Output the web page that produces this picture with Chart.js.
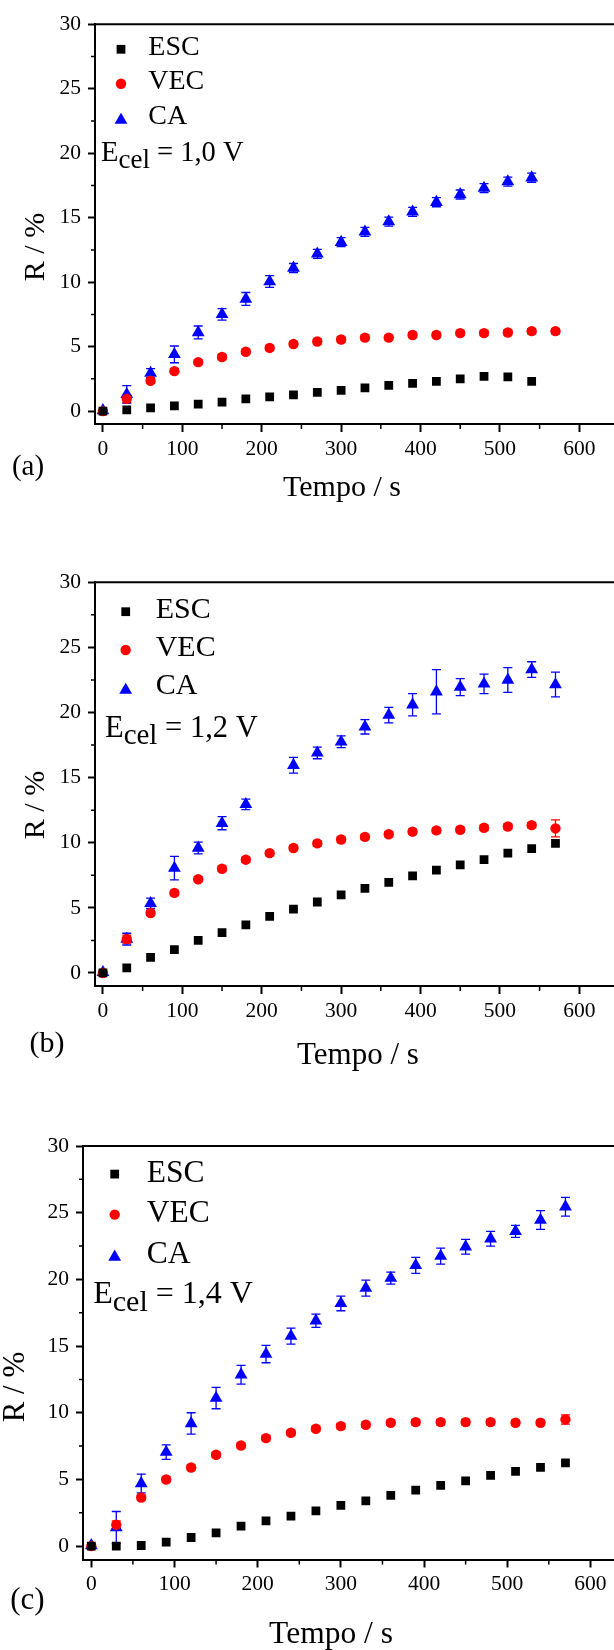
<!DOCTYPE html>
<html>
<head>
<meta charset="utf-8">
<title>R / % vs Tempo</title>
<script src="https://cdn.jsdelivr.net/npm/chart.js@4.4.1/dist/chart.umd.min.js"></script>
<style>
    html, body { margin: 0; padding: 0; background: #fff; overflow: hidden; }
    body { width: 614px; height: 1650px; position: relative; }
    .panel { position: absolute; left: 0; }
</style>
</head>
<body>
<div class="panel" style="top:0"><canvas id="chartA" width="640" height="520"></canvas></div>
<div class="panel" style="top:520px"><canvas id="chartB" width="640" height="580"></canvas></div>
<div class="panel" style="top:1100px"><canvas id="chartC" width="640" height="550"></canvas></div>
<script>
// sampling times (s)
const times = [0, 30, 60, 90, 120, 150, 180, 210, 240, 270, 300, 330, 360, 390, 420, 450, 480, 510, 540, 570];

const xTicks = [0, 100, 200, 300, 400, 500, 600];
const xMinorTicks = [50, 150, 250, 350, 450, 550];
const yTicks = [0, 5, 10, 15, 20, 25, 30];
const yMinorTicks = [2.5, 7.5, 12.5, 17.5, 22.5, 27.5];

const seriesLabels = ["ESC", "VEC", "CA"];

// (a) Ecel = 1,0 V
const escA = [0, 0.1, 0.25, 0.4, 0.55, 0.7, 0.95, 1.1, 1.25, 1.45, 1.6, 1.8, 2.0, 2.15, 2.3, 2.5, 2.7, 2.65, 2.3, null];
const vecA = [0, 0.95, 2.35, 3.1, 3.8, 4.2, 4.6, 4.9, 5.2, 5.4, 5.55, 5.7, 5.7, 5.9, 5.9, 6.05, 6.05, 6.1, 6.2, 6.2];
const vecErrA = [0, 0.3, 0.2, 0.2, 0.2, 0.2, 0.2, 0.2, 0.2, 0.2, 0.2, 0.2, 0.2, 0.2, 0.2, 0.2, 0.2, 0.2, 0.2, 0.2];
const caA = [0.05, 1.3, 2.95, 4.4, 6.1, 7.5, 8.7, 10.05, 11.1, 12.2, 13.1, 13.9, 14.7, 15.45, 16.2, 16.8, 17.3, 17.8, 18.1, null];
const caErrA = [0, 0.68, 0.35, 0.65, 0.5, 0.45, 0.5, 0.45, 0.35, 0.35, 0.35, 0.35, 0.35, 0.35, 0.35, 0.35, 0.35, 0.35, 0.35, null];

// (b) Ecel = 1,2 V
const escB = [0, 0.4, 1.2, 1.8, 2.5, 3.1, 3.7, 4.35, 4.9, 5.45, 6.0, 6.5, 6.95, 7.45, 7.9, 8.3, 8.7, 9.2, 9.55, 9.95];
const vecB = [0, 2.6, 4.6, 6.15, 7.2, 8.0, 8.7, 9.2, 9.6, 9.95, 10.25, 10.45, 10.65, 10.85, 10.95, 11.0, 11.15, 11.25, 11.35, 11.1];
const vecErrB = [0, 0.3, 0.2, 0.2, 0.2, 0.2, 0.2, 0.2, 0.2, 0.2, 0.2, 0.2, 0.2, 0.2, 0.2, 0.2, 0.2, 0.2, 0.2, 0.65];
const caB = [0.05, 2.6, 5.35, 8.05, 9.6, 11.5, 12.95, null, 15.95, 16.9, 17.75, 18.9, 19.8, 20.6, 21.6, 21.95, 22.2, 22.5, 23.3, 22.15];
const caErrB = [0, 0.45, 0.4, 0.9, 0.45, 0.5, 0.4, null, 0.6, 0.45, 0.45, 0.55, 0.6, 0.85, 1.7, 0.65, 0.75, 0.95, 0.6, 0.95];

// (c) Ecel = 1,4 V
const escC = [0, 0, 0.05, 0.3, 0.65, 1.0, 1.5, 1.9, 2.25, 2.65, 3.05, 3.4, 3.8, 4.2, 4.55, 4.9, 5.3, 5.6, 5.9, 6.25];
const vecC = [0, 1.6, 3.65, 5.0, 5.9, 6.85, 7.55, 8.1, 8.5, 8.8, 9.0, 9.1, 9.25, 9.3, 9.3, 9.3, 9.3, 9.25, 9.25, 9.5];
const vecErrC = [0, 0.3, 0.2, 0.2, 0.2, 0.2, 0.2, 0.2, 0.2, 0.2, 0.2, 0.2, 0.2, 0.2, 0.2, 0.2, 0.2, 0.2, 0.2, 0.35];
const caC = [0.05, 1.4, 4.7, 7.05, 9.2, 11.1, 12.85, 14.4, 15.75, 16.9, 18.2, 19.35, 20.1, 21.05, 21.75, 22.45, 23.05, 23.6, 24.45, 25.45];
const caErrC = [0, 1.2, 0.7, 0.55, 0.8, 0.8, 0.7, 0.65, 0.6, 0.5, 0.55, 0.6, 0.45, 0.6, 0.6, 0.55, 0.55, 0.45, 0.7, 0.7];

const FONT = '"Liberation Serif", "Times New Roman", serif';
const MARKERS = [
    { style: "rect", radius: 6.2, color: "#000000" },
    { style: "circle", radius: 5.2, color: "#ff0000" },
    { style: "triangle", radius: 7.4, color: "#0000ff" },
];

function points(values, errors) {
    return times
        .map((t, i) => ({ x: t, y: values[i], err: errors ? errors[i] : 0 }))
        .filter((p) => p.y !== null);
}

function makeDataset(index, values, errors) {
    const m = MARKERS[index];
    return {
        label: seriesLabels[index],
        data: points(values, errors),
        pointStyle: m.style,
        pointRadius: m.radius,
        pointHoverRadius: m.radius,
        pointBorderWidth: 0,
        backgroundColor: m.color,
        borderColor: m.color,
        showLine: false,
    };
}

// frame, minor ticks, error bars and all the text inside the plot
const figureDecor = {
    id: "figureDecor",
    beforeDatasetsDraw(chart) {
        const { ctx, scales } = chart;
        ctx.save();
        ctx.lineWidth = 1.3;
        chart.data.datasets.forEach((ds) => {
            ctx.strokeStyle = ds.borderColor;
            ctx.beginPath();
            ds.data.forEach((p) => {
                if (!p.err) {
                    return;
                }
                const px = scales.x.getPixelForValue(p.x);
                const top = scales.y.getPixelForValue(p.y + p.err);
                const bot = scales.y.getPixelForValue(p.y - p.err);
                ctx.moveTo(px, top);
                ctx.lineTo(px, bot);
                ctx.moveTo(px - 4.5, top);
                ctx.lineTo(px + 4.5, top);
                ctx.moveTo(px - 4.5, bot);
                ctx.lineTo(px + 4.5, bot);
            });
            ctx.stroke();
        });
        ctx.restore();
    },
    afterDraw(chart, args, o) {
        const { ctx, chartArea: area, scales } = chart;
        ctx.save();
        ctx.strokeStyle = "#000";
        ctx.lineWidth = 2;
        ctx.beginPath();
        ctx.moveTo(area.left, area.top);
        ctx.lineTo(area.right, area.top);
        ctx.stroke();

        ctx.lineWidth = 1.5;
        ctx.beginPath();
        xMinorTicks.forEach((v) => {
            const px = scales.x.getPixelForValue(v);
            ctx.moveTo(px, area.bottom);
            ctx.lineTo(px, area.bottom + 5);
        });
        yMinorTicks.forEach((v) => {
            const py = scales.y.getPixelForValue(v);
            ctx.moveTo(area.left - 4, py);
            ctx.lineTo(area.left, py);
        });
        ctx.stroke();

        ctx.fillStyle = "#000";
        ctx.textBaseline = "alphabetic";
        ctx.textAlign = "left";

        // legend
        const lg = o.legend;
        chart.data.datasets.forEach((ds, i) => {
            const cy = lg.y + i * lg.step;
            ctx.fillStyle = ds.backgroundColor;
            const shift = ds.pointStyle === "triangle" ? ds.pointRadius / 4 : 0;
            Chart.helpers.drawPoint(ctx, {
                pointStyle: ds.pointStyle,
                radius: ds.pointRadius,
                rotation: 0,
                borderWidth: 0,
            }, lg.markerX, cy + shift);
            ctx.fillStyle = "#000";
            ctx.font = `${lg.size}px ${FONT}`;
            ctx.fillText(ds.label, lg.textX, cy + lg.dy);
        });

        // E_cel annotation
        const e = o.ecel;
        ctx.font = `${e.size}px ${FONT}`;
        ctx.fillText("E", e.x, e.y);
        let cx = e.x + ctx.measureText("E").width;
        ctx.font = `${e.sub}px ${FONT}`;
        ctx.fillText("cel", cx, e.y + e.drop);
        cx += ctx.measureText("cel").width;
        ctx.font = `${e.size}px ${FONT}`;
        ctx.fillText(" = " + e.value, cx, e.y);

        // panel letter
        ctx.font = `${o.panel.size}px ${FONT}`;
        ctx.textAlign = "center";
        ctx.fillText(o.panel.text, o.panel.x, o.panel.y);

        // axis titles
        ctx.font = `${o.xTitle.size}px ${FONT}`;
        ctx.fillText("Tempo / s", o.xTitle.x, o.xTitle.y);
        ctx.translate(o.yTitle.x, o.yTitle.y);
        ctx.rotate(-Math.PI / 2);
        ctx.font = `${o.yTitle.size}px ${FONT}`;
        ctx.fillText("R / %", 0, 0);
        ctx.restore();
    },
};

function axisStyle(tickLength) {
    return {
        grid: {
            drawOnChartArea: false,
            drawTicks: true,
            tickLength: tickLength,
            tickWidth: 2,
            tickColor: "#000",
        },
        border: { display: true, color: "#000", width: 2 },
    };
}

function makeChart(canvasId, layout, datasets, decor) {
    return new Chart(document.getElementById(canvasId), {
        type: "scatter",
        data: { datasets: datasets },
        plugins: [figureDecor],
        options: {
            responsive: false,
            animation: false,
            events: [],
            layout: {
                autoPadding: false,
                padding: { top: layout.top, right: layout.right, bottom: 0, left: 0 },
            },
            scales: {
                x: {
                    type: "linear",
                    min: -10,
                    max: 650,
                    ...axisStyle(8),
                    afterBuildTicks: (scale) => {
                        scale.ticks = xTicks.map((v) => ({ value: v }));
                    },
                    afterFit: (scale) => {
                        scale.height = layout.xHeight;
                    },
                    ticks: {
                        color: "#000",
                        padding: 4,
                        maxRotation: 0,
                        autoSkip: false,
                        font: { family: FONT, size: 21.5 },
                    },
                },
                y: {
                    type: "linear",
                    min: -1,
                    max: 30,
                    ...axisStyle(7),
                    afterBuildTicks: (scale) => {
                        scale.ticks = yTicks.map((v) => ({ value: v }));
                    },
                    afterFit: (scale) => {
                        scale.width = layout.left;
                    },
                    ticks: {
                        color: "#000",
                        padding: 7,
                        autoSkip: false,
                        font: { family: FONT, size: 21.5 },
                    },
                },
            },
            plugins: {
                legend: { display: false },
                tooltip: { enabled: false },
                figureDecor: decor,
            },
        },
    });
}

makeChart("chartA",
    { top: 24.3, right: 21, left: 95, xHeight: 96 },
    [makeDataset(0, escA), makeDataset(1, vecA, vecErrA), makeDataset(2, caA, caErrA)],
    {
        legend: { markerX: 121, y: 49.3, step: 34.5, textX: 148.3, dy: 5.5, size: 28 },
        ecel: { x: 101, y: 160.7, size: 28.5, sub: 27, drop: 7, value: "1,0 V" },
        panel: { text: "(a)", x: 28, y: 475, size: 29 },
        xTitle: { x: 342, y: 496, size: 30 },
        yTitle: { x: 44, y: 247, size: 30 },
    });

makeChart("chartB",
    { top: 62.3, right: 21, left: 95, xHeight: 114 },
    [makeDataset(0, escB), makeDataset(1, vecB, vecErrB), makeDataset(2, caB, caErrB)],
    {
        legend: { markerX: 125.7, y: 91.7, step: 38.3, textX: 155.7, dy: 6, size: 30 },
        ecel: { x: 105, y: 216.7, size: 30.5, sub: 29, drop: 7, value: "1,2 V" },
        panel: { text: "(b)", x: 47, y: 532, size: 30 },
        xTitle: { x: 358, y: 544, size: 31 },
        yTitle: { x: 44, y: 285, size: 30 },
    });

makeChart("chartC",
    { top: 46, right: 8, left: 83, xHeight: 90.5 },
    [makeDataset(0, escC), makeDataset(1, vecC, vecErrC), makeDataset(2, caC, caErrC)],
    {
        legend: { markerX: 114.7, y: 74.1, step: 40.5, textX: 146.8, dy: 7.5, size: 31.5 },
        ecel: { x: 93.2, y: 202.6, size: 32, sub: 30, drop: 8, value: "1,4 V" },
        panel: { text: "(c)", x: 27.4, y: 508.7, size: 31 },
        xTitle: { x: 331, y: 543, size: 31.5 },
        yTitle: { x: 24, y: 287, size: 31 },
    });
</script>
</body>
</html>
